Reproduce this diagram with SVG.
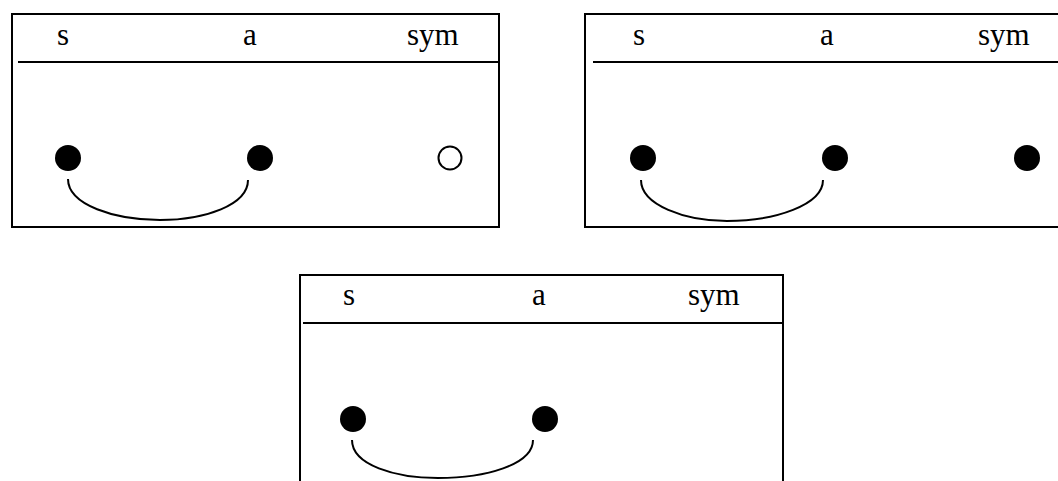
<svg xmlns="http://www.w3.org/2000/svg" width="1058" height="481" viewBox="0 0 1058 481">
<style>
.box{fill:none;stroke:#000;stroke-width:2}
.hdr{stroke:#000;stroke-width:2}
.lbl{font-family:"Liberation Serif","Times New Roman",serif;font-size:31px;fill:#000}
.dot{fill:#000}
.open{fill:#fff;stroke:#000;stroke-width:2}
.arc{fill:none;stroke:#000;stroke-width:2}
</style>
<rect width="1058" height="481" fill="#fff"/>
<g id="panel1">
<rect class="box" x="12" y="14" width="487" height="213"/>
<line class="hdr" x1="18" y1="62" x2="499" y2="62"/>
<text class="lbl" x="57" y="45">s</text>
<text class="lbl" x="243" y="45">a</text>
<text class="lbl" x="407" y="45">sym</text>
<circle id="p1-s" class="dot" cx="68" cy="158" r="13"/>
<circle id="p1-a" class="dot" cx="260" cy="158" r="13"/>
<circle id="p1-sym" class="open" cx="450" cy="158" r="11.5"/>
</g>
<g id="panel2">
<rect class="box" x="585" y="14" width="480" height="213"/>
<line class="hdr" x1="593" y1="62" x2="1058" y2="62"/>
<text class="lbl" x="633" y="45">s</text>
<text class="lbl" x="820" y="45">a</text>
<text class="lbl" x="978" y="45">sym</text>
<circle id="p2-s" class="dot" cx="643" cy="158" r="13"/>
<circle id="p2-a" class="dot" cx="835" cy="158" r="13"/>
<circle id="p2-sym" class="dot" cx="1027" cy="158" r="13"/>
</g>
<g id="panel3">
<path class="box" d="M300,490 V275 H783 V490"/>
<line class="hdr" x1="303" y1="323" x2="783" y2="323"/>
<text class="lbl" x="343" y="305">s</text>
<text class="lbl" x="532" y="305">a</text>
<text class="lbl" x="688" y="305">sym</text>
<circle id="p3-s" class="dot" cx="353" cy="419" r="13"/>
<circle id="p3-a" class="dot" cx="545" cy="419" r="13"/>
</g>
<g id="connectors">
<path class="arc" d="M68,179 C68,205 115,220 160,220 C205,220 248,205 248,180"/>
<path class="arc" d="M641,180 C641,205 685,221 727,221 C775,221 823,205 823,180"/>
<path class="arc" d="M352,440 C352,465 395,478 438,478 C485,478 533,465 533,440"/>
</g>
</svg>
